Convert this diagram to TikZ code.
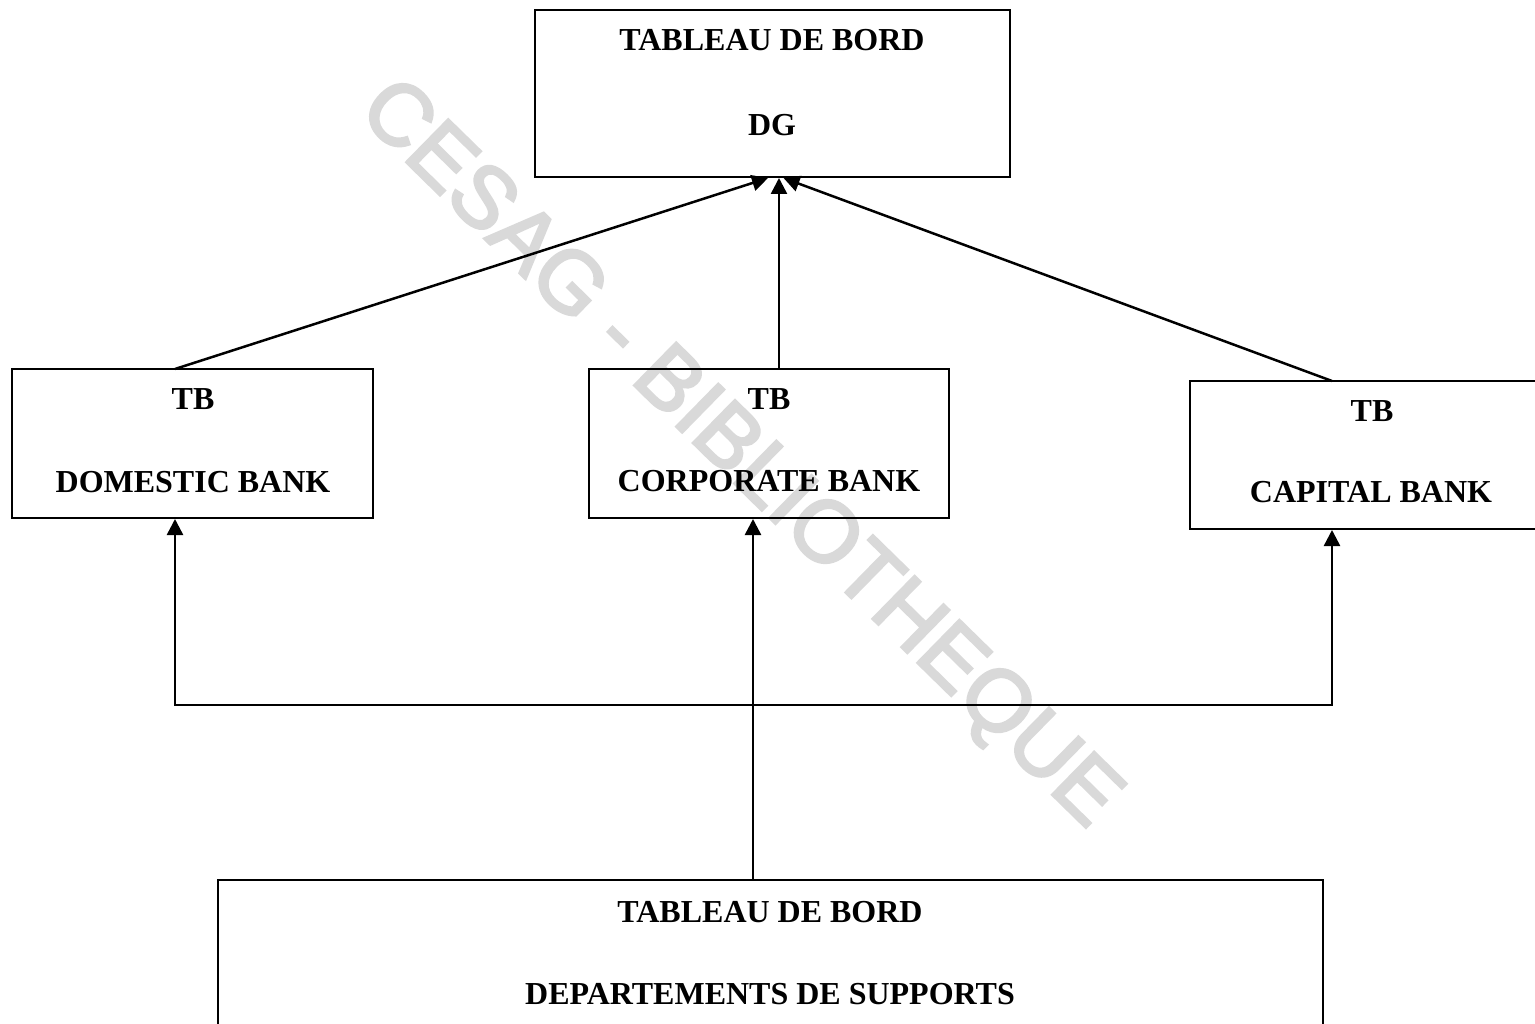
\documentclass[tikz,border=0pt]{standalone}
\usepackage{fontspec}
\setmainfont{Liberation Serif}
\newfontfamily\wmfont[FakeBold=3]{Liberation Sans}
\usetikzlibrary{arrows.meta}
\definecolor{wmgray}{HTML}{D9D9D9}
\tikzset{
  x=1pt,y=-1pt,
  boxstyle/.style={draw=black,line width=2pt,anchor=north west,inner sep=0pt,outer sep=0pt},
  lbl/.style={inner sep=0pt,outer sep=0pt,anchor=center,font=\fontsize{32}{32}\selectfont\bfseries},
  conn/.style={line width=2.5pt,-{Triangle[length=16pt,width=16pt]}},
  conn2/.style={line width=2.5pt,{Triangle[length=16pt,width=16pt]}-{Triangle[length=16pt,width=16pt]},line join=miter},
  wm/.style={text=wmgray,inner sep=0pt,font=\fontsize{87}{87}\wmfont,rotate=-44.4}
}
\begin{document}
\begin{tikzpicture}
\useasboundingbox (0,0) rectangle (1535,1024);
\clip (0,0) rectangle (1535,1024);
\fill[white] (0,0) rectangle (1535,1024);
% watermark
\node[wm] (wmark) at (738,456) {CESAG - BIBLIOTHEQUE};
% boxes
\node[boxstyle,minimum width=475pt,minimum height=167pt] (dg) at (535,10) {};
\node[boxstyle,minimum width=361pt,minimum height=149pt] (dom) at (12,369) {};
\node[boxstyle,minimum width=360pt,minimum height=149pt] (corp) at (589,369) {};
\node[boxstyle,minimum width=360pt,minimum height=148pt] (cap) at (1190,381) {};
\node[boxstyle,minimum width=1105pt,minimum height=160pt] (sup) at (218,880) {};
% labels
\node[lbl] (dgt1) at (772,40) {TABLEAU DE BORD};
\node[lbl] (dgt2) at (772,125) {DG};
\node[lbl] (domt1) at (193,399) {TB};
\node[lbl] (domt2) at (193,482) {DOMESTIC BANK};
\node[lbl] (corpt1) at (769,399) {TB};
\node[lbl] (corpt2) at (769,481) {CORPORATE BANK};
\node[lbl] (capt1) at (1372,411) {TB};
\node[lbl] (capt2) at (1371,492) {CAPITAL BANK};
\node[lbl] (supt1) at (770,912) {TABLEAU DE BORD};
\node[lbl] (supt2) at (770,994) {DEPARTEMENTS DE SUPPORTS};
% connector points
\coordinate (domtop) at ([xshift=-17.5pt]dom.north);
\coordinate (corptop) at ([xshift=10pt]corp.north);
\coordinate (captop) at ([xshift=-38pt]cap.north);
\coordinate (dgin1) at ([xshift=-4.5pt,yshift=-1pt]dg.south);
\coordinate (dgin2) at ([xshift=6.5pt,yshift=-1pt]dg.south);
\coordinate (dgin3) at ([xshift=11pt,yshift=-1pt]dg.south);
\coordinate (domin) at ([xshift=-17.5pt,yshift=-1pt]dom.south);
\coordinate (corpin) at ([xshift=-16pt,yshift=-1pt]corp.south);
\coordinate (capin) at ([xshift=-38pt,yshift=-1pt]cap.south);
\coordinate (supout) at ([xshift=-17.5pt]sup.north);
\coordinate (hl) at (domin |- 0,705);
\coordinate (hr) at (capin |- 0,705);
% connectors
\draw[conn] (domtop) -- (dgin1);
\draw[conn] (corptop) -- (dgin2);
\draw[conn] (captop) -- (dgin3);
\draw[conn] (supout) -- (corpin);
\draw[conn2] (domin) -- (hl) -- (hr) -- (capin);
\end{tikzpicture}
\end{document}
